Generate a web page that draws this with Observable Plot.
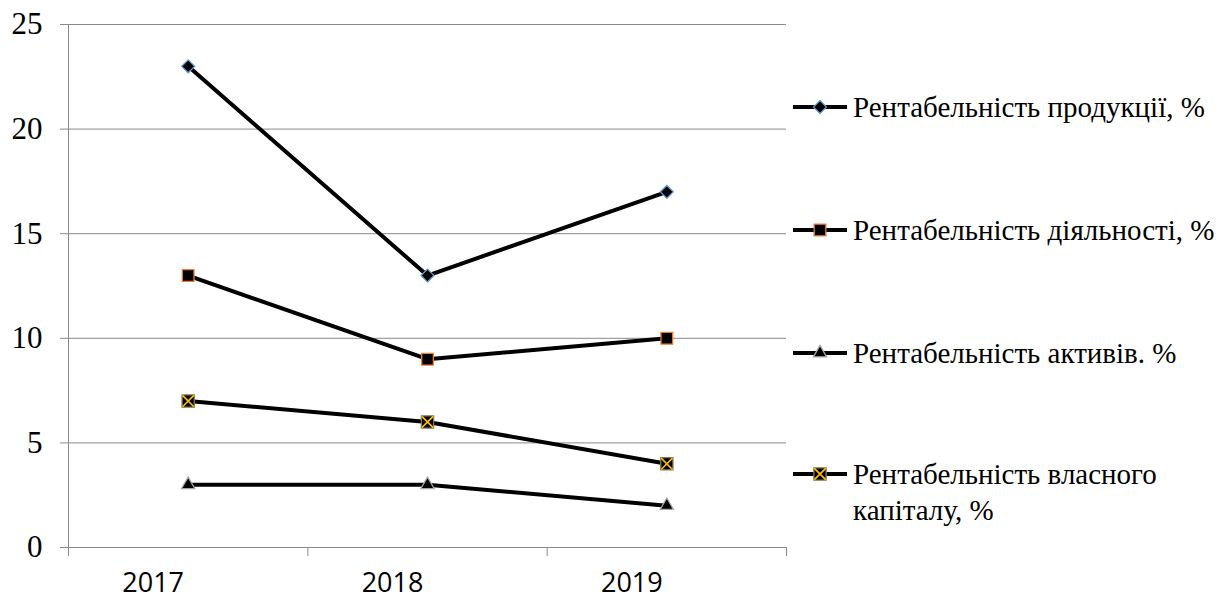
<!DOCTYPE html>
<html>
<head>
<meta charset="utf-8">
<script src="https://cdn.jsdelivr.net/npm/d3@7"></script>
<script src="https://cdn.jsdelivr.net/npm/@observablehq/plot@0.6"></script>
<style>
  html, body { margin: 0; padding: 0; background: #fff; }
  #wrap { position: relative; width: 1220px; height: 598px; overflow: hidden; }
  .legend-item { position: absolute; left: 793px; display: flex; align-items: flex-start; }
  .legend-item svg { flex: none; }
  .legend-item span {
    font-family: 'Liberation Serif', 'DejaVu Serif', serif;
    font-size: 29px; line-height: 36px; color: #000;
    width: 368px; margin-left: 6px;
  }
</style>
</head>
<body>
<div id="wrap"></div>
<script>
// Years on the category axis
const years = ["2017", "2018", "2019"];

// Profitability indicators, %
const seriesNames = [
  "Рентабельність продукції, %",
  "Рентабельність діяльності, %",
  "Рентабельність активів. %",
  "Рентабельність власного капіталу, %"
];
const productProfit = [23, 13, 17];
const activityProfit = [13, 9, 10];
const assetsProfit = [3, 3, 2];
const equityProfit = [7, 6, 4];

// Value axis ticks
const yTicks = [0, 5, 10, 15, 20, 25];

// Marker style for each series
const markerStyles = [
  {symbol: "diamond2", r: 5.8, fill: "#000", stroke: "#5B9BD5"},
  {symbol: "square", r: 6.6, fill: "#000", stroke: "#ED7D31"},
  {symbol: "triangle", r: 4.9, fill: "#000", stroke: "#A5A5A5"},
  {symbol: "square", r: 6.9, fill: "#000", stroke: "#8a7a4a", cross: "#FFC000"}
];

const seriesValues = [productProfit, activityProfit, assetsProfit, equityProfit];

// Long table: each category is centred inside its slot [i, i+1]
const rows = seriesValues.flatMap((vals, s) =>
  vals.map((v, i) => ({series: seriesNames[s], s, pos: i + 0.5, year: years[i], value: v}))
);
const slotEdges = d3.range(years.length + 1);
const yearRows = years.map((y, i) => ({year: y, pos: i + 0.5}));

const grid = "#898989";

const marks = [
  Plot.ruleY(yTicks, {y: d => d, stroke: grid, strokeWidth: 1, insetLeft: -8}),
  Plot.ruleX([0], {x: d => d, stroke: grid, strokeWidth: 1}),
  Plot.ruleX(slotEdges, {x: d => d, y1: 0, y2: 0, stroke: grid, strokeWidth: 1, insetBottom: -9}),
  Plot.axisY({ticks: yTicks, tickSize: 0, tickPadding: 26, fontSize: 31,
    fontFamily: "Liberation Serif", label: null}),
  Plot.text(yearRows, {x: "pos", y: () => 0, text: "year", dx: -35, dy: 36,
    fontSize: 27, fontFamily: "Open Sans", fill: "#000"}),
  Plot.line(rows, {x: "pos", y: "value", z: "series", stroke: "#000", strokeWidth: 4,
    strokeLinejoin: "round", strokeLinecap: "butt"})
];

markerStyles.forEach((m, s) => {
  const data = rows.filter(d => d.s === s);
  marks.push(Plot.dot(data, {x: "pos", y: "value", symbol: () => m.symbol, r: m.r,
    fill: m.fill, stroke: m.stroke, strokeWidth: 1.3}));
  if (m.cross) {
    marks.push(Plot.dot(data, {x: "pos", y: "value", symbol: () => "times", r: 5.2,
      fill: "none", stroke: m.cross, strokeWidth: 1.6}));
  }
});

const chart = Plot.plot({
  width: 1220,
  height: 598,
  marginLeft: 68,
  marginRight: 434,
  marginTop: 24,
  marginBottom: 51,
  style: {background: "#fff", color: "#000", overflow: "visible"},
  x: {type: "linear", domain: [0, years.length], axis: null},
  y: {type: "linear", domain: [0, 25], axis: null},
  marks
});

const wrap = document.getElementById("wrap");
wrap.appendChild(chart);

// Legend on the right: line swatch with the series marker, then the name
const legendCentres = [107, 230, 353, 474];
const symbolTypes = {diamond2: d3.symbolDiamond2, square: d3.symbolSquare, triangle: d3.symbolTriangle};
seriesNames.forEach((name, s) => {
  const m = markerStyles[s];
  const item = document.createElement("div");
  item.className = "legend-item";
  item.style.top = (legendCentres[s] - 18) + "px";
  const svg = d3.create("svg").attr("width", 54).attr("height", 36);
  svg.append("line").attr("x1", 0).attr("x2", 54).attr("y1", 18).attr("y2", 18)
    .attr("stroke", "#000").attr("stroke-width", 4);
  const size = Math.PI * m.r * m.r;
  svg.append("path").attr("transform", "translate(27,18)")
    .attr("d", d3.symbol(symbolTypes[m.symbol], size)())
    .attr("fill", m.fill).attr("stroke", m.stroke).attr("stroke-width", 1.3);
  if (m.cross) {
    svg.append("path").attr("transform", "translate(27,18)")
      .attr("d", d3.symbol(d3.symbolTimes, Math.PI * 5.2 * 5.2)())
      .attr("fill", "none").attr("stroke", m.cross).attr("stroke-width", 1.6);
  }
  item.appendChild(svg.node());
  const label = document.createElement("span");
  label.textContent = name;
  item.appendChild(label);
  wrap.appendChild(item);
});
</script>
</body>
</html>
